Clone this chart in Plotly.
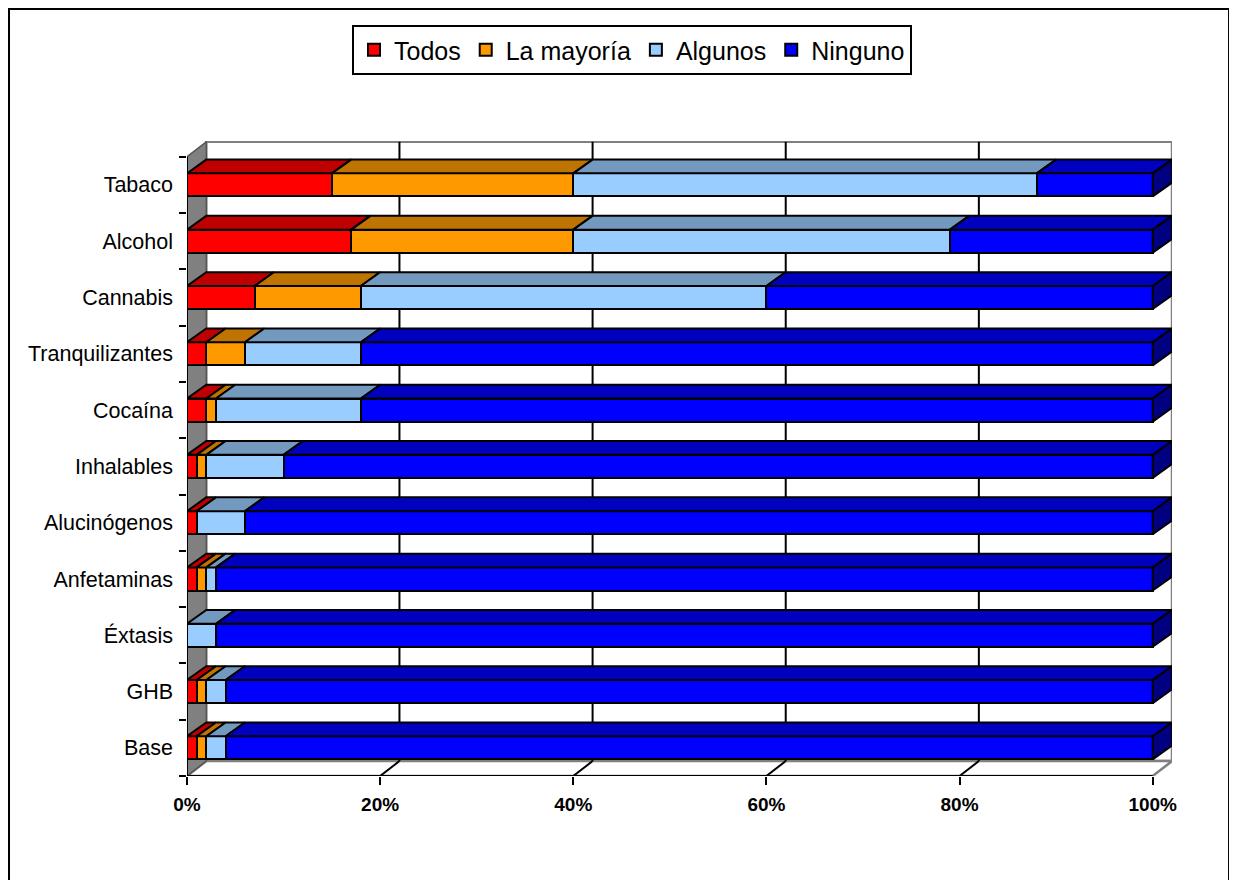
import plotly.graph_objects as go

# ---------------- data ----------------
categories = ["Tabaco", "Alcohol", "Cannabis", "Tranquilizantes", "Cocaína", "Inhalables",
              "Alucinógenos", "Anfetaminas", "Éxtasis", "GHB", "Base"]
series_names = ["Todos", "La mayoría", "Algunos", "Ninguno"]
todos = [15, 17, 7, 2, 2, 1, 1, 1, 0, 1, 1]
mayoria = [25, 23, 11, 4, 1, 1, 0, 1, 0, 1, 1]
algunos = [48, 39, 42, 12, 15, 8, 5, 1, 3, 2, 2]
ninguno = [12, 21, 40, 82, 82, 90, 94, 97, 97, 96, 96]
x_ticks = [0, 20, 40, 60, 80, 100]
x_tick_labels = ["0%", "20%", "40%", "60%", "80%", "100%"]

# ---------------- style ----------------
front_colors = ["#FF0000", "#FF9900", "#99CCFF", "#0000FF"]
top_colors = ["#BF0000", "#BF7300", "#7399BF", "#0000BF"]
side_color = "#000080"
FONT = "Liberation Sans, Arial, sans-serif"
BAR_W = 0.41
DX = 2.0        # depth offset in x units
DY_BAR = 0.245  # depth offset in y units for bars
DY_WALL = 0.265

series = [todos, mayoria, algunos, ninguno]
n = len(categories)
ypos = [n - 1 - i for i in range(n)]  # Tabaco on top

fig = go.Figure()

# front faces
for name, vals, col in zip(series_names, series, front_colors):
    fig.add_trace(go.Bar(
        y=ypos, x=vals, orientation="h", name=name, width=BAR_W,
        marker=dict(color=col, line=dict(color="black", width=2)),
        hoverinfo="skip"))

# top faces (per series) and side faces
cum = [0] * n
for si, (vals, tcol) in enumerate(zip(series, top_colors)):
    xs, ys = [], []
    for i in range(n):
        x0 = cum[i]
        x1 = cum[i] + vals[i]
        if vals[i] > 0:
            yt = ypos[i] + BAR_W / 2
            xs += [x0, x1, x1 + DX, x0 + DX, x0, None]
            ys += [yt, yt, yt + DY_BAR, yt + DY_BAR, yt, None]
        cum[i] = x1
    fig.add_trace(go.Scatter(x=xs, y=ys, mode="lines", fill="toself", fillcolor=tcol,
                             line=dict(color="black", width=2), showlegend=False,
                             hoverinfo="skip"))

sx, sy = [], []
for i in range(n):
    xe = cum[i]
    yt = ypos[i] + BAR_W / 2
    yb = ypos[i] - BAR_W / 2
    sx += [xe, xe, xe + DX, xe + DX, xe, None]
    sy += [yb, yt, yt + DY_BAR, yb + DY_BAR, yb, None]
fig.add_trace(go.Scatter(x=sx, y=sy, mode="lines", fill="toself", fillcolor=side_color,
                         line=dict(color="black", width=2), showlegend=False,
                         hoverinfo="skip"))

# ---------------- walls, floor, gridlines ----------------
ylo = -0.5
yhi = n - 0.5
xmax = x_ticks[-1]
shapes = []
# back wall
shapes.append(dict(type="rect", xref="x", yref="y", x0=DX, x1=xmax + DX,
                   y0=ylo + DY_WALL, y1=yhi + DY_WALL, fillcolor="white",
                   line=dict(color="#808080", width=2.5), layer="below"))
# floor
shapes.append(dict(type="path", xref="x", yref="y",
                   path=f"M0,{ylo} L{xmax},{ylo} L{xmax + DX},{ylo + DY_WALL} L{DX},{ylo + DY_WALL} Z",
                   fillcolor="white", line=dict(color="#808080", width=2.5), layer="below"))
# left wall
shapes.append(dict(type="path", xref="x", yref="y",
                   path=f"M0,{ylo} L0,{yhi} L{DX},{yhi + DY_WALL} L{DX},{ylo + DY_WALL} Z",
                   fillcolor="#808080", line=dict(color="#555555", width=1.5), layer="below"))
# gridlines on back wall and floor
for xv in x_ticks[1:-1]:
    shapes.append(dict(type="line", xref="x", yref="y", x0=xv + DX, x1=xv + DX,
                       y0=ylo + DY_WALL, y1=yhi + DY_WALL,
                       line=dict(color="black", width=2), layer="below"))
    shapes.append(dict(type="line", xref="x", yref="y", x0=xv, x1=xv + DX,
                       y0=ylo, y1=ylo + DY_WALL,
                       line=dict(color="black", width=2), layer="below"))
# front axis lines
shapes.append(dict(type="line", xref="x", yref="y", x0=0, x1=xmax, y0=ylo, y1=ylo,
                   line=dict(color="black", width=2), layer="above"))
shapes.append(dict(type="line", xref="x", yref="y", x0=0, x1=0, y0=ylo, y1=yhi,
                   line=dict(color="black", width=2), layer="above"))
# outer chart border
shapes.append(dict(type="rect", xref="paper", yref="paper",
                   x0=-0.1807, x1=1.0579, y0=-0.2, y1=1.2079,
                   line=dict(color="black", width=2), fillcolor="rgba(0,0,0,0)"))

fig.update_layout(
    width=1229, height=872,
    margin=dict(l=179, r=65, t=133, b=104),
    paper_bgcolor="white", plot_bgcolor="white",
    barmode="stack", bargap=0,
    font=dict(family=FONT, color="black"),
    shapes=shapes,
    showlegend=True,
    legend=dict(orientation="h", xref="container", yref="container",
                x=344 / 1229, xanchor="left", y=1 - 17 / 872, yanchor="top",
                font=dict(size=25, family=FONT, color="black"),
                bgcolor="white", bordercolor="black", borderwidth=2,
                traceorder="normal", itemwidth=30),
    xaxis=dict(range=[0, xmax + DX], tickvals=x_ticks, ticktext=x_tick_labels,
               showgrid=False, zeroline=False, showline=False,
               ticks="outside", ticklen=8, tickwidth=2, tickcolor="black",
               ticklabelstandoff=3,
               tickfont=dict(size=19, family=FONT, color="black", weight="bold"),
               fixedrange=True),
    yaxis=dict(range=[ylo, yhi + 0.28], tickvals=ypos, ticktext=categories,
               showgrid=False, zeroline=False, showline=False,
               ticks="", ticklabelstandoff=13,
               tickfont=dict(size=21.5, family=FONT, color="black"),
               minor=dict(tickvals=[v - 0.5 for v in range(n + 1)], ticks="outside",
                          ticklen=7, tickwidth=2, tickcolor="black", showgrid=False),
               fixedrange=True),
)

fig.write_html("out.html")
